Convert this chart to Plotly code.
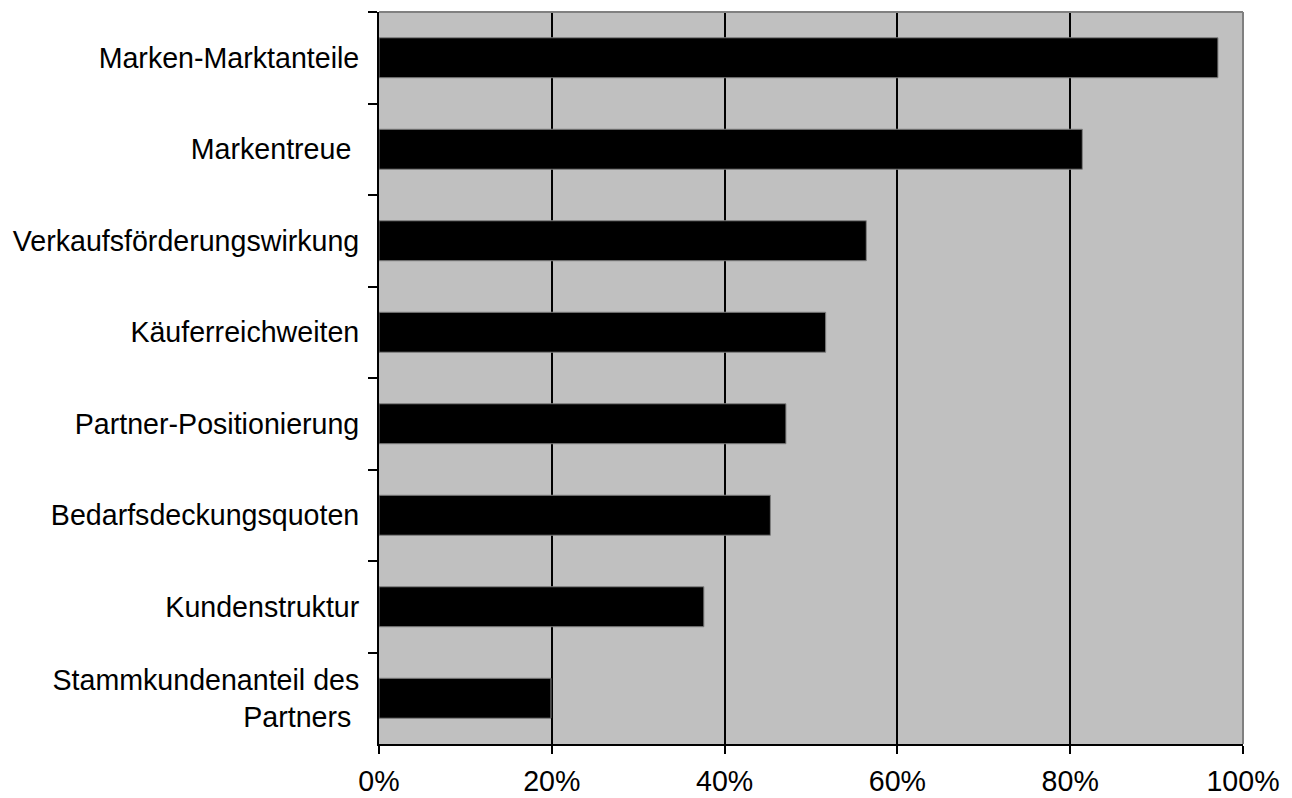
import plotly.graph_objects as go

categories = [
    "Marken-Marktanteile",
    "Markentreue ",
    "Verkaufsförderungswirkung",
    "Käuferreichweiten",
    "Partner-Positionierung",
    "Bedarfsdeckungsquoten",
    "Kundenstruktur",
    "Stammkundenanteil des<br>Partners ",
]
values = [0.971, 0.814, 0.564, 0.517, 0.471, 0.453, 0.376, 0.199]
x_ticks = [0, 0.2, 0.4, 0.6, 0.8, 1.0]

fig = go.Figure(
    go.Bar(
        x=values,
        y=categories,
        orientation="h",
        marker=dict(color="black", line=dict(color="#808080", width=1)),
        hoverinfo="skip",
    )
)

font = dict(family="Liberation Sans, Arial, sans-serif", size=28.6, color="black")

fig.update_layout(
    width=1292,
    height=798,
    margin=dict(l=379, r=49, t=12, b=54),
    paper_bgcolor="white",
    plot_bgcolor="#C0C0C0",
    bargap=0.563,
    showlegend=False,
    font=font,
)

fig.update_xaxes(
    range=[0, 1],
    tickvals=x_ticks,
    tickformat=".0%",
    automargin=False,
    showgrid=True,
    gridcolor="black",
    gridwidth=1.5,
    zeroline=False,
    showline=True,
    linecolor="black",
    linewidth=2,
    ticks="outside",
    ticklen=8,
    tickwidth=1.5,
    tickcolor="black",
    ticklabelstandoff=3,
    tickfont=font,
)

fig.update_yaxes(
    type="category",
    autorange="reversed",
    automargin=False,
    tickson="boundaries",
    showgrid=False,
    zeroline=False,
    showline=True,
    linecolor="black",
    linewidth=2,
    ticks="outside",
    ticklen=9,
    tickwidth=1.5,
    tickcolor="black",
    ticklabelstandoff=12,
    tickfont=font,
)

# gray top/right border of the plot area
fig.add_shape(type="line", xref="paper", yref="paper", x0=0, x1=1, y0=1, y1=1,
              line=dict(color="#808080", width=2), layer="above")
fig.add_shape(type="line", xref="paper", yref="paper", x0=1, x1=1, y0=0, y1=1,
              line=dict(color="#808080", width=2), layer="above")

fig.write_html("out.html")
